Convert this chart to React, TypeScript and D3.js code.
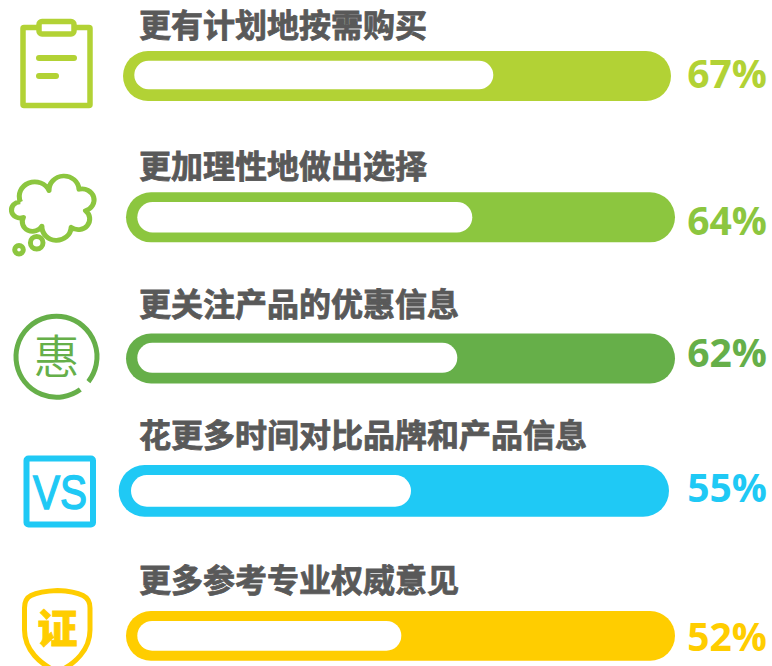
import React from "react";
import * as d3 from "d3";

const labels = ["更有计划地按需购买", "更加理性地做出选择", "更关注产品的优惠信息", "花更多时间对比品牌和产品信息", "更多参考专业权威意见"];
const values = [67, 64, 62, 55, 52];
const colors = ["#B2D235", "#8CC63F", "#66AF49", "#1FC9F5", "#FFCD00"];

// Fill length, per value.
const fillWidth = d3.scaleLinear().domain([52, 55, 62, 64, 67]).range([264, 280, 320, 335, 359]);

// Row geometry: track box, white inner pill inset and height, text baselines.
const rowLayout = [
  { x0: 123, x1: 671, y0: 51, y1: 101, inX: 11.3, inY: 9.7, inH: 28.6, titleY: 37, valueY: 88 },
  { x0: 126, x1: 675, y0: 192.3, y1: 242.3, inX: 11.3, inY: 9.6, inH: 30.6, titleY: 178, valueY: 235 },
  { x0: 126, x1: 675, y0: 333.5, y1: 383.5, inX: 11.3, inY: 9.3, inH: 30, titleY: 316, valueY: 367 },
  { x0: 118.7, x1: 669, y0: 465, y1: 516.7, inX: 12.3, inY: 10, inH: 31.7, titleY: 447, valueY: 502 },
  { x0: 126, x1: 675, y0: 611, y1: 660.7, inX: 11.3, inY: 10, inH: 29.7, titleY: 592, valueY: 651 },
];

const cjk = '"Noto Sans CJK SC", sans-serif';

function Icons() {
  const k = (n: number) => n / 3;
  const cloud = [
    [68, 606], [148, 572], [232, 568], [250, 632], [210, 682], [128, 678], [76, 652], [68, 606],
  ];
  const radii = [40, 42, 32, 28, 40, 26, 24];
  const large = [1, 1, 1, 0, 1, 0, 1];
  let cloudPath = `M${k(cloud[0][0])},${k(cloud[0][1])}`;
  for (let i = 1; i < cloud.length; i++) {
    const r = k(radii[i - 1]);
    cloudPath += `A${r},${r} 0 ${large[i - 1]} 1 ${k(cloud[i][0])},${k(cloud[i][1])}`;
  }
  const ringArc = d3.arc()({
    innerRadius: 40.5,
    outerRadius: 40.5,
    startAngle: (144 * Math.PI) / 180,
    endAngle: (488 * Math.PI) / 180,
  } as any) as string;
  return (
    <g fill="none">
      {/* clipboard */}
      <g stroke={colors[0]} strokeWidth={5.5} strokeLinejoin="round" strokeLinecap="round">
        <rect x={23} y={27.5} width={67} height={78} rx={1} fill="#fff" />
        <rect x={39} y={21.5} width={35} height={12.5} rx={3} fill="#fff" />
        <line x1={39} y1={58} x2={74} y2={58} strokeWidth={6} />
        <line x1={39} y1={76} x2={56} y2={76} strokeWidth={6} />
      </g>
      {/* thought cloud */}
      <g stroke={colors[1]} strokeLinejoin="round">
        <path d={cloudPath} fill="#fff" strokeWidth={4.7} transform="translate(53.5,206) scale(1.07,1) translate(-53.5,-206)" />
        <circle cx={36.7} cy={242.7} r={6.3} strokeWidth={5} />
        <circle cx={19} cy={249.7} r={4.3} strokeWidth={5} />
      </g>
      {/* ring */}
      <g transform="translate(56.5,356.7)">
        <path d={ringArc} stroke={colors[2]} strokeWidth={5} strokeLinecap="round" />
        <text y={16} textAnchor="middle" fontSize={46} fontFamily={cjk} fontWeight={350} fill={colors[2]}>惠</text>
      </g>
      {/* VS */}
      <rect x={26.5} y={458.5} width={66.5} height={66} rx={2} stroke={colors[3]} strokeWidth={6} />
      <text x={33} y={509} fontSize={49} fontFamily='"Liberation Sans", sans-serif' textLength={54} lengthAdjust="spacingAndGlyphs" fill={colors[3]} stroke={colors[3]} strokeWidth={1.5}>VS</text>
      {/* shield */}
      <path
        d="M57.5,590.5 C46,591 36,593 31,595.5 C26,598 24.5,602 24.5,608 L24.5,630 C24.5,650 40,664 57.5,672 C75,664 90,650 90,630 L90,608 C90,602 88,598 83,595.5 C78,593 69,591 57.5,590.5 Z"
        stroke={colors[4]}
        strokeWidth={5}
      />
      <text x={57.5} y={643} textAnchor="middle" fontSize={40} fontFamily={cjk} fontWeight={900} fill={colors[4]} stroke={colors[4]} strokeWidth={0.8}>证</text>
    </g>
  );
}

export default function App() {
  return (
    <svg width={772} height={666} viewBox="0 0 772 666" style={{ position: "absolute", left: 0, top: 0, background: "#fff" }}>
      <Icons />
      {labels.map((label, i) => {
        const r = rowLayout[i];
        const h = r.y1 - r.y0;
        return (
          <g key={label}>
            <text x={139} y={r.titleY} fontFamily={cjk} fontWeight={700} fontSize={32} fill="#595959" stroke="#595959" strokeWidth={0.8}>{label}</text>
            <rect x={r.x0} y={r.y0} width={r.x1 - r.x0} height={h} rx={h / 2} fill={colors[i]} />
            <rect x={r.x0 + r.inX} y={r.y0 + r.inY} width={fillWidth(values[i])} height={r.inH} rx={r.inH / 2} fill="#fff" />
            <text x={767} y={r.valueY} textAnchor="end" fontFamily='"Open Sans", sans-serif' fontWeight={700} fontSize={39} fill={colors[i]}>{values[i]}%</text>
          </g>
        );
      })}
    </svg>
  );
}
